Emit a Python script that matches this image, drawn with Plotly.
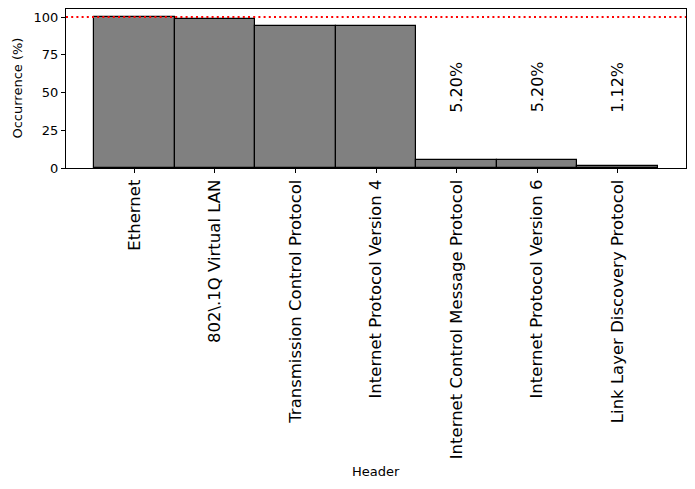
import plotly.graph_objects as go

# ===== data =====
headers = [
    "Ethernet",
    "802\\.1Q Virtual LAN",
    "Transmission Control Protocol",
    "Internet Protocol Version 4",
    "Internet Control Message Protocol",
    "Internet Protocol Version 6",
    "Link Layer Discovery Protocol",
]
occurrence = [100.0, 98.7, 93.8, 93.8, 5.20, 5.20, 1.12]
y_ticks = [0, 25, 50, 75, 100]

FONT = "DejaVu Sans"
pos = list(range(len(headers)))

# ===== bars =====
bars = go.Bar(
    x=pos,
    y=occurrence,
    width=1.0,
    marker=dict(color="#808080", line=dict(color="black", width=1.2)),
    showlegend=False,
    hoverinfo="x+y",
)

fig = go.Figure(data=[bars])

# red dotted reference line at 100 %
fig.add_shape(
    type="line", xref="paper", x0=0, x1=1, yref="y", y0=100, y1=100,
    line=dict(color="red", width=1.8, dash="2px,3.2px"),
)

# percent labels for the small bars
for i, v in zip(pos, occurrence):
    if v < 10:
        fig.add_annotation(
            x=i, y=53.5, text=f"{v:.2f}%", textangle=-90, showarrow=False,
            font=dict(family=FONT, size=16, color="black"),
            xanchor="center", yanchor="middle",
        )

# axis titles
fig.add_annotation(
    xref="paper", yref="paper", x=-0.079, y=0.5, text="Occurrence (%)",
    textangle=-90, showarrow=False, font=dict(family=FONT, size=13, color="black"),
    xanchor="center", yanchor="middle",
)
fig.add_annotation(
    xref="paper", yref="paper", x=0.5, y=-1.908, text="Header",
    showarrow=False, font=dict(family=FONT, size=13, color="black"),
    xanchor="center", yanchor="middle",
)

# page body has an 8px margin, so the figure is a bit smaller and shifted back
fig.update_layout(
    width=687,
    height=481,
    margin=dict(l=58, r=9, t=1, b=321, autoexpand=False),
    paper_bgcolor="white",
    plot_bgcolor="white",
    bargap=0,
    font=dict(family=FONT, color="black"),
)
fig.update_xaxes(
    range=[-0.85, 6.85],
    tickmode="array",
    tickvals=pos,
    ticktext=headers,
    tickangle=-90,
    tickfont=dict(family=FONT, size=16.5, color="black"),
    ticks="outside", ticklen=4, tickcolor="black",
    showline=True, linecolor="black", linewidth=1, mirror=True,
    showgrid=False, zeroline=False, automargin=False,
)
fig.update_yaxes(
    range=[0, 105.3],
    tickmode="array",
    tickvals=y_ticks,
    tickfont=dict(family=FONT, size=13, color="black"),
    ticks="outside", ticklen=4, tickcolor="black",
    showline=True, linecolor="black", linewidth=1, mirror=True,
    showgrid=False, zeroline=False, automargin=False,
)

fig.write_html("out.html")
